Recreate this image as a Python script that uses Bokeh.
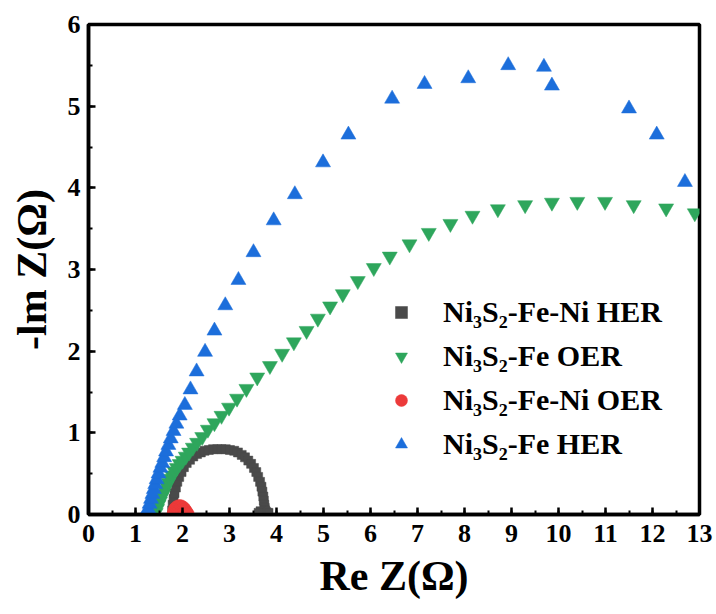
from bokeh.plotting import figure
from bokeh.models import Range1d, SingleIntervalTicker, Legend, LegendItem
from bokeh.embed import file_html
from bokeh.resources import INLINE

# ---- data ----
her_feni_x = [1.78, 1.79, 1.81, 1.83, 1.86, 1.89, 1.93, 1.98, 2.03, 2.09, 2.16, 2.23, 2.31, 2.39,
              2.47, 2.56, 2.65, 2.74, 2.83, 2.92, 3.01, 3.10, 3.18, 3.26, 3.33, 3.40, 3.46, 3.52,
              3.57, 3.61, 3.65, 3.68, 3.70, 3.72, 3.73, 3.74, 3.75, 3.76, 3.78, 3.80, 3.83, 3.66, 3.62]
her_feni_y = [0.05, 0.12, 0.19, 0.26, 0.33, 0.40, 0.46, 0.52, 0.58, 0.63, 0.67, 0.71, 0.74, 0.76,
              0.78, 0.79, 0.80, 0.80, 0.80, 0.80, 0.79, 0.78, 0.76, 0.73, 0.70, 0.66, 0.62, 0.57,
              0.52, 0.46, 0.40, 0.34, 0.28, 0.22, 0.17, 0.12, 0.08, 0.05, 0.03, 0.02, 0.02, 0.04, 0.02]

oer_fe_x = [1.43, 1.46, 1.49, 1.52, 1.55, 1.59, 1.62, 1.66, 1.70, 1.74, 1.78, 1.83, 1.88, 1.94,
            2.00, 2.07, 2.14, 2.22, 2.31, 2.42, 2.54, 2.68, 2.83, 2.99, 3.16, 3.36, 3.59, 3.86,
            4.12, 4.37, 4.64, 4.88, 5.14, 5.41, 5.73, 6.07, 6.41, 6.83, 7.24, 7.70, 8.17, 8.71,
            9.29, 9.86, 10.40, 10.99, 11.60, 12.29, 12.90]
oer_fe_y = [0.02, 0.07, 0.12, 0.16, 0.21, 0.25, 0.30, 0.35, 0.39, 0.44, 0.48, 0.53, 0.57, 0.62,
            0.66, 0.71, 0.76, 0.82, 0.88, 0.95, 1.04, 1.12, 1.21, 1.31, 1.42, 1.54, 1.68, 1.82,
            1.97, 2.11, 2.25, 2.40, 2.55, 2.70, 2.86, 3.02, 3.16, 3.31, 3.45, 3.56, 3.66, 3.74,
            3.79, 3.82, 3.83, 3.83, 3.79, 3.75, 3.69]

oer_feni_x = [1.80, 1.81, 1.83, 1.86, 1.90, 1.94, 1.98, 2.02, 2.05, 2.08, 2.10, 2.12]
oer_feni_y = [0.01, 0.04, 0.07, 0.09, 0.105, 0.11, 0.105, 0.09, 0.07, 0.045, 0.02, 0.01]

her_fe_x = [1.24, 1.27, 1.30, 1.33, 1.36, 1.39, 1.42, 1.45, 1.49, 1.53, 1.57, 1.61, 1.65, 1.70,
            1.75, 1.81, 1.87, 1.94, 2.05, 2.17, 2.30, 2.48, 2.68, 2.91, 3.19, 3.51, 3.94, 4.39,
            4.99, 5.53, 6.46, 7.15, 8.08, 8.93, 9.69, 9.86, 11.50, 12.09, 12.69]
her_fe_y = [0.02, 0.07, 0.13, 0.19, 0.25, 0.31, 0.37, 0.43, 0.50, 0.57, 0.63, 0.70, 0.77, 0.85,
            0.93, 1.02, 1.11, 1.21, 1.34, 1.53, 1.75, 1.99, 2.25, 2.56, 2.87, 3.21, 3.60, 3.92,
            4.31, 4.65, 5.09, 5.27, 5.34, 5.50, 5.48, 5.25, 4.97, 4.65, 4.07]

labels = ["Ni₃S₂-Fe-Ni HER", "Ni₃S₂-Fe OER", "Ni₃S₂-Fe-Ni OER", "Ni₃S₂-Fe HER"]
x_label = "Re Z(Ω)"
y_label = "-lm Z(Ω)"

FONT = "Liberation Serif"

p = figure(width=716, height=614, output_backend="svg", toolbar_location=None,
           x_range=Range1d(0, 13), y_range=Range1d(0, 6),
           min_border_left=88, min_border_right=17, min_border_top=24, min_border_bottom=100)
p.background_fill_color = "white"
p.border_fill_color = "white"
p.grid.visible = False
p.outline_line_color = "black"
p.outline_line_width = 3.5

r_gray = p.scatter(her_feni_x, her_feni_y, marker="square", size=9,
                   fill_color="#4a4a4a", line_color="#4a4a4a", line_width=0.5)
r_green = p.scatter(oer_fe_x, oer_fe_y, marker="inverted_triangle", size=15,
                    fill_color="#2ea65c", line_color="#2ea65c", line_width=0.5)
r_red = p.scatter(oer_feni_x, oer_feni_y, marker="circle", size=12,
                  fill_color="#ec3a3a", line_color="#ec3a3a", line_width=0.5)
r_blue = p.scatter(her_fe_x, her_fe_y, marker="triangle", size=15,
                   fill_color="#1c6edb", line_color="#1c6edb", line_width=0.5)

for ax in (p.xaxis[0], p.yaxis[0]):
    ax.ticker = SingleIntervalTicker(interval=1, num_minor_ticks=2)
    ax.axis_line_width = 3.5
    ax.axis_line_color = "black"
    ax.major_tick_in = 7
    ax.major_tick_out = 0
    ax.minor_tick_in = 4
    ax.minor_tick_out = 0
    ax.major_tick_line_width = 2.5
    ax.minor_tick_line_width = 2
    ax.major_label_text_font = FONT
    ax.major_label_text_font_style = "bold"
    ax.major_label_text_font_size = "26px"
    ax.major_label_text_color = "black"
    ax.axis_label_text_font = FONT
    ax.axis_label_text_font_style = "bold"
    ax.axis_label_text_font_size = "42px"
    ax.axis_label_text_color = "black"

p.xaxis.axis_label = x_label
p.yaxis.axis_label = y_label
p.xaxis.major_label_standoff = 10
p.yaxis.major_label_standoff = 8
p.xaxis.axis_label_standoff = 8
p.yaxis.axis_label_standoff = 10

legend = Legend(items=[LegendItem(label=labels[0], renderers=[r_gray]),
                       LegendItem(label=labels[1], renderers=[r_green]),
                       LegendItem(label=labels[2], renderers=[r_red]),
                       LegendItem(label=labels[3], renderers=[r_blue])],
                location=(298, 50))
legend.background_fill_alpha = 0
legend.border_line_color = None
legend.padding = 0
legend.margin = 0
legend.spacing = 4
legend.glyph_width = 30
legend.glyph_height = 40
legend.label_height = 40
legend.label_standoff = 27
legend.label_text_font = FONT
legend.label_text_font_style = "bold"
legend.label_text_font_size = "30px"
legend.label_text_color = "black"
p.add_layout(legend)

open("out.html", "w").write(file_html(p, INLINE))
